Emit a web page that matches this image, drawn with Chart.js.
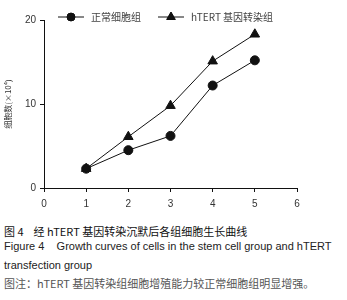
<!DOCTYPE html>
<html>
<head>
<meta charset="utf-8">
<script src="https://cdn.jsdelivr.net/npm/chart.js@4"></script>
<style>
  body { margin: 0; background: #fff; }
  #wrap { position: relative; width: 347px; height: 300px; }
  #box { position: absolute; left: 0; top: 0; width: 347px; height: 215px; }
  .cap { position: absolute; left: 4px; white-space: nowrap; color: #222;
         font-family: "Liberation Sans", "Noto Sans CJK SC", sans-serif; font-size: 11px; }
  .zh { font-family: "Noto Sans CJK SC", sans-serif; }
</style>
</head>
<body>
<div id="wrap">
  <div id="box"><canvas id="growthChart"></canvas></div>
  <div class="cap zh" style="top:223px; color:#111;">图 4&nbsp;&nbsp;&nbsp;&nbsp;经 hTERT 基因转染沉默后各组细胞生长曲线</div>
  <div class="cap" style="top:240px;">Figure 4&nbsp;&nbsp;&nbsp;&nbsp;Growth curves of cells in the stem cell group and hTERT</div>
  <div class="cap" style="top:259px;">transfection group</div>
  <div class="cap zh" style="top:275px; color:#555;">图注：hTERT 基因转染组细胞增殖能力较正常细胞组明显增强。</div>
</div>
<script>
const days = [1, 2, 3, 4, 5];
const normalCells = [2.3, 4.5, 6.2, 12.2, 15.2];
const hTERTCells = [2.3, 6.1, 9.8, 15.1, 18.3];
const seriesNames = ['正常细胞组', 'hTERT 基因转染组'];
const yTicks = [0, 10, 20];

const ink = '#111';

// legend drawn as line-with-marker, like the original figure
const lineLegend = {
  id: 'lineLegend',
  afterDraw(chart) {
    const ctx = chart.ctx;
    const y = 17;
    const items = [
      { x: 58, style: 'circle', r: 4, text: seriesNames[0] },
      { x: 158, style: 'triangle', r: 5, text: seriesNames[1] }
    ];
    ctx.save();
    items.forEach(it => {
      ctx.strokeStyle = ink;
      ctx.lineWidth = 1;
      ctx.beginPath();
      ctx.moveTo(it.x, y);
      ctx.lineTo(it.x + 26, y);
      ctx.stroke();
      ctx.fillStyle = ink;
      Chart.helpers.drawPoint(ctx, { pointStyle: it.style, radius: it.r, borderWidth: 1 }, it.x + 13, y);
      ctx.fill();
      ctx.font = '10px "Noto Sans CJK SC", "Liberation Sans", sans-serif';
      ctx.fillStyle = '#444';
      ctx.textBaseline = 'middle';
      ctx.fillText(it.text, it.x + 33, y);
    });
    ctx.restore();
  }
};

new Chart(document.getElementById('growthChart'), {
  type: 'line',
  data: {
    datasets: [{
      label: seriesNames[0],
      data: days.map((d, i) => ({ x: d, y: normalCells[i] })),
      borderColor: ink,
      backgroundColor: ink,
      borderWidth: 1,
      pointStyle: 'circle',
      pointRadius: 4.5,
      tension: 0
    }, {
      label: seriesNames[1],
      data: days.map((d, i) => ({ x: d, y: hTERTCells[i] })),
      borderColor: ink,
      backgroundColor: ink,
      borderWidth: 1,
      pointStyle: 'triangle',
      pointRadius: 5.5,
      tension: 0
    }]
  },
  options: {
    responsive: true,
    maintainAspectRatio: false,
    animation: false,
    layout: { padding: { top: 20, right: 50, left: 0, bottom: 0 } },
    plugins: { legend: { display: false }, tooltip: { enabled: false } },
    scales: {
      x: {
        type: 'linear',
        min: 0, max: 6,
        ticks: { stepSize: 1, color: '#333', padding: 6, font: { size: 10, family: 'Liberation Sans' } },
        grid: { drawOnChartArea: false, drawTicks: true, tickLength: 4, color: ink },
        border: { display: true, color: ink },
        afterFit(scale) { scale.height = 27; }
      },
      y: {
        min: 0, max: 20,
        afterBuildTicks(scale) { scale.ticks = yTicks.map(v => ({ value: v })); },
        ticks: { color: '#333', padding: 4, font: { size: 10, family: 'Liberation Sans' } },
        grid: { drawOnChartArea: false, drawTicks: true, tickLength: 4, color: ink },
        border: { display: true, color: ink },
        title: {
          display: true,
          text: '细胞数(×10⁴)',
          color: '#333',
          font: { size: 8, family: 'Noto Sans CJK SC' },
          padding: { top: 3, bottom: 0 }
        },
        afterFit(scale) { scale.width = 44; }
      }
    }
  },
  plugins: [lineLegend]
});
</script>
</body>
</html>
